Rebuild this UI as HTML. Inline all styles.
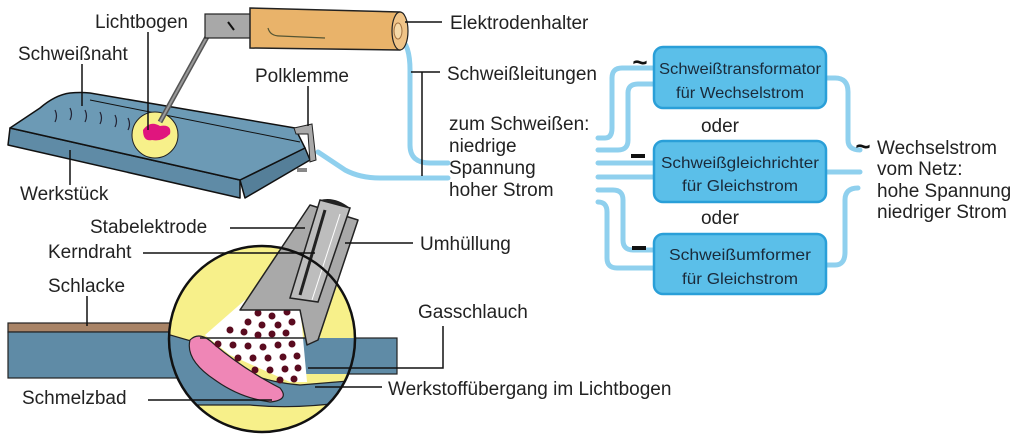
<!DOCTYPE html>
<html><head><meta charset="utf-8"><style>
html,body{margin:0;padding:0;background:#fff;}
svg{display:block;}
text{font-family:"Liberation Sans",sans-serif;fill:#222;}
.l{font-size:19px;}
.b{font-size:16px;fill:#1a2a3a;}
</style></head><body>
<svg width="1024" height="437" viewBox="0 0 1024 437" xmlns="http://www.w3.org/2000/svg">
<g fill="none" stroke="#8fd0ee" stroke-width="5" stroke-linecap="round">
<path d="M400 38 Q410 45 410 70 L410 145 Q410 163 430 163 L448 163"/>
<path d="M318 152 Q330 160 345 170 Q360 178 380 178 L448 178"/>
<path d="M598 138 L605 138 Q612 138 612 128 L612 78 Q612 68 622 68 L654 68"/>
<path d="M598 150 L618 150 Q628 150 628 140 L628 93 Q628 84 638 84 L654 84"/>
<path d="M598 163 L654 163"/>
<path d="M598 177 L654 177"/>
<path d="M598 190 L613 190 Q623 190 623 200 L623 240 Q623 250 633 250 L654 250"/>
<path d="M598 202 L598 202 Q607 202 607 212 L607 258 Q607 268 617 268 L654 268"/>
<path d="M825 78 L835 78 Q848 78 848 92 L848 140 Q848 150 860 150"/>
<path d="M825 172 L860 172"/>
<path d="M825 265 L835 265 Q845 265 845 252 L845 200 Q845 188 858 188"/>
</g>
<g fill="#5bbfe9" stroke="#2a9fd8" stroke-width="2.5">
<rect x="654" y="47" width="172" height="61" rx="9"/>
<rect x="654" y="141" width="172" height="61" rx="9"/>
<rect x="654" y="234" width="172" height="60" rx="9"/>
</g>
<text class="b" x="740" y="74" text-anchor="middle" textLength="162" lengthAdjust="spacingAndGlyphs">Schweißtransformator</text>
<text class="b" x="740" y="98" text-anchor="middle" textLength="128" lengthAdjust="spacingAndGlyphs">für Wechselstrom</text>
<text class="b" x="740" y="168" text-anchor="middle" textLength="158" lengthAdjust="spacingAndGlyphs">Schweißgleichrichter</text>
<text class="b" x="740" y="191" text-anchor="middle" textLength="116" lengthAdjust="spacingAndGlyphs">für Gleichstrom</text>
<text class="b" x="740" y="260" text-anchor="middle" textLength="142" lengthAdjust="spacingAndGlyphs">Schweißumformer</text>
<text class="b" x="740" y="284" text-anchor="middle" textLength="116" lengthAdjust="spacingAndGlyphs">für Gleichstrom</text>
<text class="l" x="720" y="132" text-anchor="middle">oder</text>
<text class="l" x="720" y="224" text-anchor="middle">oder</text>
<text x="640" y="71" font-size="26" font-weight="bold" text-anchor="middle" style="fill:#111">~</text>
<text x="863" y="155" font-size="26" font-weight="bold" text-anchor="middle" style="fill:#111">~</text>
<rect x="631" y="154" width="14" height="4" fill="#111"/>
<rect x="632" y="246" width="14" height="4" fill="#111"/>
<text class="l" x="877" y="154">Wechselstrom</text>
<text class="l" x="877" y="175">vom Netz:</text>
<text class="l" x="877" y="197">hohe Spannung</text>
<text class="l" x="877" y="218">niedriger Strom</text>
<text class="l" x="449" y="130">zum Schweißen:</text>
<text class="l" x="449" y="152">niedrige</text>
<text class="l" x="449" y="174">Spannung</text>
<text class="l" x="449" y="196">hoher Strom</text>

<g stroke="#111" stroke-width="1.5" stroke-linejoin="round">
<polygon points="10,128 240,180 240,198 8,145" fill="#5f8ba6"/>
<polygon points="240,180 305,148 310,160 245,198" fill="#557f99"/>
<path d="M10,128 L40,108 Q55,95 70,93 Q80,92 90,93 L295,128 L305,148 L240,180 Z" fill="#6c9ab5"/>
<path d="M90,100 L300,142" fill="none" stroke-width="1"/>
</g>
<g fill="none" stroke="#223" stroke-width="1.2">
<path d="M55,110 q3,6 0,12"/><path d="M70,108 q3,6 0,12"/><path d="M85,110 q3,6 0,12"/><path d="M100,112 q3,6 0,12"/><path d="M115,115 q3,6 0,12"/><path d="M128,118 q3,6 0,12"/>
</g>
<circle cx="155" cy="135" r="23" fill="#f7f08a" stroke="#222" stroke-width="1"/>
<path d="M143,130 Q150,120 160,126 Q172,124 170,134 Q162,142 152,140 Q143,142 143,130 Z" fill="#e0157e"/>
<line x1="208" y1="35" x2="160" y2="122" stroke="#555" stroke-width="5"/>
<line x1="208" y1="35" x2="160" y2="122" stroke="#999" stroke-width="2"/>
<rect x="205" y="14" width="48" height="24" fill="#a8a8a8" stroke="#222" stroke-width="1.2"/>
<line x1="228" y1="22" x2="234" y2="30" stroke="#111" stroke-width="2"/>
<path d="M250,8 L400,12 Q410,30 400,50 L250,48 Z" fill="#e9b36a" stroke="#222" stroke-width="1.5"/>
<ellipse cx="400" cy="31" rx="8" ry="19" fill="#f0c488" stroke="#222" stroke-width="1.2"/>
<ellipse cx="398" cy="31" rx="4" ry="8" fill="#f6d9a8" stroke="#a07040" stroke-width="1"/>
<path d="M268,28 Q270,36 280,36 L325,38" fill="none" stroke="#553" stroke-width="1.2"/>
<path d="M294,128 L312,124 L316,160 L310,162 L308,134 L296,134 Z" fill="#aaa" stroke="#222" stroke-width="1"/>
<rect x="297" y="168" width="10" height="4" fill="#888"/>
<g stroke="#111" stroke-width="1.5" fill="none">
<line x1="148" y1="32" x2="148" y2="130"/>
<line x1="82" y1="64" x2="82" y2="106"/>
<line x1="70" y1="150" x2="70" y2="185"/>
<line x1="308" y1="86" x2="308" y2="126"/>
<line x1="405" y1="22" x2="442" y2="22"/>
<path d="M411 72 L440 72 M422 72 L422 176"/>
</g>
<text class="l" x="95" y="28">Lichtbogen</text>
<text class="l" x="18" y="60">Schweißnaht</text>
<text class="l" x="20" y="200">Werkstück</text>
<text class="l" x="255" y="82">Polklemme</text>
<text class="l" x="450" y="29">Elektrodenhalter</text>
<text class="l" x="447" y="80">Schweißleitungen</text>

<rect x="8" y="323" width="170" height="9" fill="#a98467" stroke="#222" stroke-width="1.2"/>
<rect x="8" y="332" width="172" height="46" fill="#5f8ba6" stroke="#222" stroke-width="1.2"/>
<rect x="300" y="338" width="97" height="36" fill="#5f8ba6" stroke="#222" stroke-width="1.2"/>
<defs><clipPath id="cc"><circle cx="262" cy="339" r="93"/></clipPath></defs>
<circle cx="262" cy="339" r="93" fill="#f7f08a"/>
<g clip-path="url(#cc)">
<path d="M160,332 L205,345 Q240,380 300,385 L360,380 L360,400 Q300,410 250,405 L160,405 Z" fill="#5f8ba6" stroke="#222" stroke-width="1.2"/>
<rect x="300" y="338" width="70" height="36" fill="#5f8ba6"/>
<polygon points="205,335 245,300 300,305 307,382 290,382 230,355" fill="#fff"/>
<path d="M190,340 Q200,330 215,345 Q245,370 280,388 Q290,400 270,402 Q240,398 215,380 Q185,360 190,340 Z" fill="#ef86b6" stroke="#222" stroke-width="1.2"/>
<line x1="200" y1="338" x2="305" y2="338" stroke="#222" stroke-width="1.5"/>
<g fill="#5a0b1f">
<circle cx="262" cy="302" r="3.5"/><circle cx="275" cy="305" r="3.5"/><circle cx="258" cy="313" r="3.5"/><circle cx="272" cy="316" r="3.5"/><circle cx="287" cy="312" r="3.5"/><circle cx="248" cy="322" r="3.5"/><circle cx="262" cy="325" r="3.5"/><circle cx="278" cy="325" r="3.5"/><circle cx="292" cy="322" r="3.5"/><circle cx="230" cy="330" r="3.5"/><circle cx="244" cy="332" r="3.5"/><circle cx="258" cy="335" r="3.5"/><circle cx="272" cy="334" r="3.5"/><circle cx="286" cy="333" r="3.5"/><circle cx="218" cy="344" r="3.5"/><circle cx="233" cy="345" r="3.5"/><circle cx="248" cy="346" r="3.5"/><circle cx="263" cy="347" r="3.5"/><circle cx="278" cy="345" r="3.5"/><circle cx="292" cy="344" r="3.5"/><circle cx="238" cy="358" r="3.5"/><circle cx="253" cy="358" r="3.5"/><circle cx="268" cy="358" r="3.5"/><circle cx="283" cy="357" r="3.5"/><circle cx="297" cy="356" r="3.5"/><circle cx="255" cy="370" r="3.5"/><circle cx="270" cy="370" r="3.5"/><circle cx="285" cy="369" r="3.5"/><circle cx="298" cy="368" r="3.5"/><circle cx="280" cy="380" r="3.5"/><circle cx="294" cy="379" r="3.5"/>
</g>
</g>
<polygon points="310,205 358,220 318,340 307,345 300,310 240,310" fill="#a9a9a9" stroke="#222" stroke-width="1.5" stroke-linejoin="round"/>
<polygon points="320,200 350,208 318,302 290,298" fill="#bdbdbd" stroke="#222" stroke-width="1.5"/>
<path d="M320,200 Q335,196 350,208" fill="#222"/>
<line x1="325" y1="210" x2="300" y2="295" stroke="#222" stroke-width="3"/>
<line x1="340" y1="214" x2="312" y2="300" stroke="#fff" stroke-width="1"/>
<circle cx="262" cy="339" r="93" fill="none" stroke="#111" stroke-width="2.5"/>
<g stroke="#111" stroke-width="1.5" fill="none">
<line x1="230" y1="228" x2="305" y2="228"/>
<line x1="143" y1="253" x2="315" y2="253"/>
<line x1="345" y1="243" x2="413" y2="243"/>
<line x1="87" y1="296" x2="87" y2="326"/>
<path d="M443 326 L443 368 L308 368"/>
<line x1="148" y1="400" x2="272" y2="400"/>
<line x1="315" y1="387" x2="382" y2="387"/>
</g>
<text class="l" x="90" y="233">Stabelektrode</text>
<text class="l" x="48" y="258">Kerndraht</text>
<text class="l" x="420" y="250">Umhüllung</text>
<text class="l" x="48" y="292">Schlacke</text>
<text class="l" x="418" y="318">Gasschlauch</text>
<text class="l" x="22" y="404">Schmelzbad</text>
<text class="l" x="388" y="395">Werkstoffübergang im Lichtbogen</text>
</svg>
</body></html>
